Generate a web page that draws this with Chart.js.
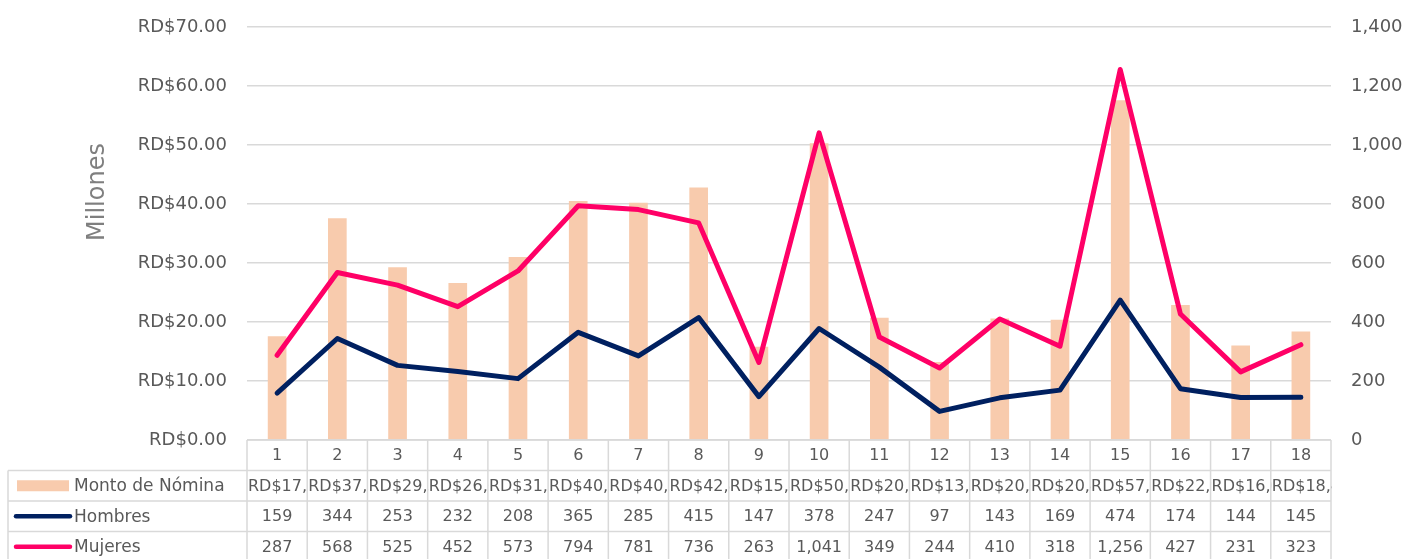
<!DOCTYPE html>
<html>
<head>
<meta charset="utf-8">
<script src="https://cdn.jsdelivr.net/npm/chart.js@4.4.1/dist/chart.umd.min.js"></script>
<style>
  html, body { margin: 0; padding: 0; background: #fff; }
  #wrap { width: 1405px; height: 559px; }
</style>
</head>
<body>
<div id="wrap"><canvas id="comboChart"></canvas></div>
<script>
const categories = ["1", "2", "3", "4", "5", "6", "7", "8", "9", "10", "11", "12", "13", "14", "15", "16", "17", "18"];
// Monto de Nómina, in millones de RD$
const montoNomina = [17.6, 37.6, 29.3, 26.6, 31.0, 40.5, 40.2, 42.8, 15.8, 50.3, 20.7, 13.2, 20.6, 20.4, 57.6, 22.9, 16.0, 18.4];
const hombres = [159, 344, 253, 232, 208, 365, 285, 415, 147, 378, 247, 97, 143, 169, 474, 174, 144, 145];
const mujeres = [287, 568, 525, 452, 573, 794, 781, 736, 263, 1041, 349, 244, 410, 318, 1256, 427, 231, 323];
const seriesNames = ["Monto de Nómina", "Hombres", "Mujeres"];

const FONT = "'DejaVu Sans', sans-serif";
const TEXT = "#595959";
const GRID = "#d9d9d9";
const BAR = "#f8cbad";
const NAVY = "#002060";
const PINK = "#ff0066";

const fmtMoney = (v) =>
  "RD$" + (v * 1e6).toLocaleString("en-US", { minimumFractionDigits: 2, maximumFractionDigits: 2 });

// draws the data table under the plot and the axis title, using the x scale for the columns
const dataTable = {
  id: "dataTable",
  afterDraw(chart) {
    const ctx = chart.ctx;
    const area = chart.chartArea;
    const x = chart.scales.x;
    const rowH = 30.5;
    const top = area.bottom;
    const left = 8;
    const colW = (area.right - area.left) / categories.length;

    ctx.save();
    ctx.strokeStyle = GRID;
    ctx.lineWidth = 1.5;
    ctx.beginPath();
    ctx.moveTo(area.left, top);
    ctx.lineTo(area.right, top);
    for (let r = 1; r <= 4; r++) {
      ctx.moveTo(left, top + r * rowH);
      ctx.lineTo(area.right, top + r * rowH);
    }
    ctx.moveTo(left, top + rowH);
    ctx.lineTo(left, top + 4 * rowH);
    for (let i = 0; i <= categories.length; i++) {
      const cx = area.left + i * colW;
      ctx.moveTo(cx, top);
      ctx.lineTo(cx, top + 4 * rowH);
    }
    ctx.stroke();

    ctx.fillStyle = TEXT;
    ctx.font = "16px " + FONT;
    ctx.textBaseline = "middle";

    const rows = [
      categories,
      montoNomina.map(fmtMoney),
      hombres.map((v) => v.toLocaleString("en-US")),
      mujeres.map((v) => v.toLocaleString("en-US")),
    ];
    rows.forEach((vals, r) => {
      const cy = top + r * rowH + rowH / 2 + 1;
      vals.forEach((txt, i) => {
        const cx = x.getPixelForValue(i);
        const cl = area.left + i * colW;
        const w = ctx.measureText(txt).width;
        ctx.save();
        ctx.beginPath();
        ctx.rect(cl + 0.5, top + r * rowH, colW, rowH);
        ctx.clip();
        if (w > colW - 2) {
          ctx.textAlign = "left";
          ctx.fillText(txt, cl + 1, cy);
        } else {
          ctx.textAlign = "center";
          ctx.fillText(txt, cx, cy);
        }
        ctx.restore();
      });
    });

    // legend keys in first column
    ctx.font = "17px " + FONT;
    ctx.textAlign = "left";
    seriesNames.forEach((name, r) => {
      const cy = top + (r + 1) * rowH + rowH / 2;
      if (r === 0) {
        ctx.fillStyle = BAR;
        ctx.fillRect(17, cy - 5.5, 52, 11);
      } else {
        ctx.strokeStyle = r === 1 ? NAVY : PINK;
        ctx.lineWidth = 4.5;
        ctx.lineCap = "round";
        ctx.beginPath();
        ctx.moveTo(16, cy);
        ctx.lineTo(70, cy);
        ctx.stroke();
      }
      ctx.fillStyle = TEXT;
      ctx.fillText(name, 74, cy + 1);
    });

    // axis title
    ctx.translate(98, 192);
    ctx.rotate(-Math.PI / 2);
    ctx.textAlign = "center";
    ctx.font = "24px " + FONT;
    ctx.fillStyle = "#7f7f7f";
    ctx.fillText("Millones", 0, 0);
    ctx.restore();
  },
};

const ctx = document.getElementById("comboChart").getContext("2d");
new Chart(ctx, {
  data: {
    labels: categories,
    datasets: [
      {
        type: "line",
        label: seriesNames[2],
        data: mujeres,
        yAxisID: "y1",
        borderColor: PINK,
        borderWidth: 5,
        borderCapStyle: "round",
        borderJoinStyle: "round",
        pointRadius: 0,
        tension: 0,
        order: 1,
      },
      {
        type: "line",
        label: seriesNames[1],
        data: hombres,
        yAxisID: "y1",
        borderColor: NAVY,
        borderWidth: 5,
        borderCapStyle: "round",
        borderJoinStyle: "round",
        pointRadius: 0,
        tension: 0,
        order: 2,
      },
      {
        type: "bar",
        label: seriesNames[0],
        data: montoNomina,
        yAxisID: "y",
        backgroundColor: BAR,
        barPercentage: 0.31,
        categoryPercentage: 1,
        order: 3,
      },
    ],
  },
  options: {
    responsive: true,
    maintainAspectRatio: false,
    animation: false,
    layout: { padding: { left: 80, top: 27, right: 0, bottom: 119 } },
    plugins: {
      legend: { display: false },
      tooltip: { enabled: false },
    },
    scales: {
      x: { display: false, offset: true },
      y: {
        position: "left",
        min: 0,
        max: 70,
        ticks: {
          stepSize: 10,
          padding: 20,
          color: TEXT,
          font: { family: FONT, size: 18 },
          callback: (v) => "RD$" + v.toFixed(2),
        },
        grid: { color: GRID, lineWidth: 1.5, drawTicks: false },
        border: { display: false },
        afterFit: (s) => { s.width = 167; s.paddingTop = 0; s.paddingBottom = 0; },
      },
      y1: {
        position: "right",
        min: 0,
        max: 1400,
        ticks: {
          stepSize: 200,
          padding: 20,
          color: TEXT,
          font: { family: FONT, size: 18 },
          callback: (v) => v.toLocaleString("en-US"),
        },
        grid: { display: false, drawTicks: false },
        border: { display: false },
        afterFit: (s) => { s.width = 74; s.paddingTop = 0; s.paddingBottom = 0; },
      },
    },
  },
  plugins: [dataTable],
});
</script>
</body>
</html>
